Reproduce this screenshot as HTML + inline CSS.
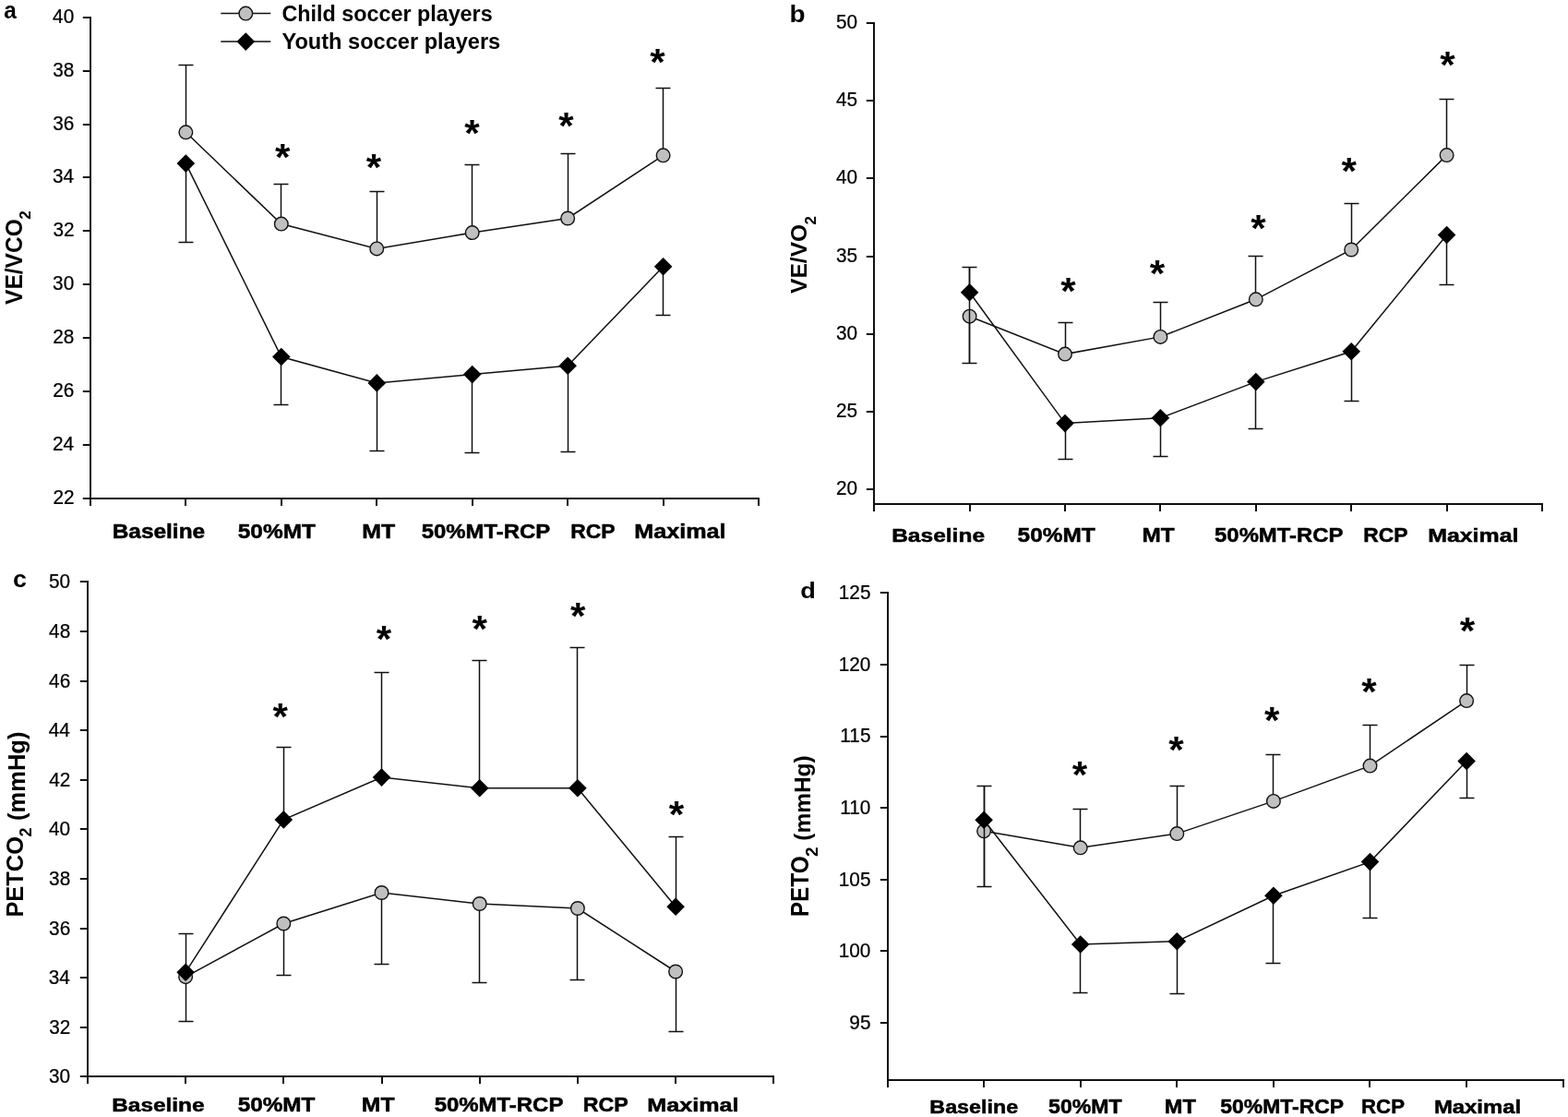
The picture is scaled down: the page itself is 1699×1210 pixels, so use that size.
<!DOCTYPE html>
<html><head><meta charset="utf-8"><title>Figure</title>
<style>html,body{margin:0;padding:0;background:#fff;}svg{display:block;}</style>
</head><body>
<svg width="1699" height="1210" viewBox="0 0 1699 1210" font-family="'Liberation Sans', Arial, Helvetica, sans-serif" fill="#000">
<rect width="1699" height="1210" fill="#fff"/>
<path d="M98 18 V548 M97 540 H822 V548 M201 540 V548 M305 540 V548 M408 540 V548 M512 540 V548 M615 540 V548 M719 540 V548 M89.8 540 H98 M89.8 482 H98 M89.8 424 H98 M89.8 366 H98 M89.8 308 H98 M89.8 250 H98 M89.8 192 H98 M89.8 135 H98 M89.8 77 H98 M89.8 19 H98" stroke="#111" stroke-width="2" fill="none" stroke-linecap="butt"/>
<text transform="translate(57.38,546.49) scale(0.98,1)" font-size="21.2" stroke="#000" stroke-width="0.25">22</text>
<text transform="translate(56.91,488.49) scale(0.98,1)" font-size="21.2" stroke="#000" stroke-width="0.25">24</text>
<text transform="translate(57.22,430.39) scale(0.98,1)" font-size="21.2" stroke="#000" stroke-width="0.25">26</text>
<text transform="translate(57.22,372.39) scale(0.98,1)" font-size="21.2" stroke="#000" stroke-width="0.25">28</text>
<text transform="translate(57.12,314.39) scale(0.98,1)" font-size="21.2" stroke="#000" stroke-width="0.25">30</text>
<text transform="translate(57.38,256.39) scale(0.98,1)" font-size="21.2" stroke="#000" stroke-width="0.25">32</text>
<text transform="translate(56.91,198.39) scale(0.98,1)" font-size="21.2" stroke="#000" stroke-width="0.25">34</text>
<text transform="translate(57.22,141.39) scale(0.98,1)" font-size="21.2" stroke="#000" stroke-width="0.25">36</text>
<text transform="translate(57.22,83.39) scale(0.98,1)" font-size="21.2" stroke="#000" stroke-width="0.25">38</text>
<text transform="translate(57.12,25.39) scale(0.98,1)" font-size="21.2" stroke="#000" stroke-width="0.25">40</text>
<polyline points="201.35,143.3 304.8,242.6 408.25,269.4 511.7,252.1 615.15,236.5 718.6,168.3" stroke="#111" stroke-width="1.5" fill="none"/>
<polyline points="201.35,177.1 304.8,386.5 408.25,414.9 511.7,405.6 615.15,396.3 718.6,288.8" stroke="#111" stroke-width="1.5" fill="none"/>
<path d="M201.5 143.3 V70.5 M193.5 70.5 H209.5 M304.5 242.6 V199.5 M296.5 199.5 H312.5 M408.5 269.4 V207.5 M400.5 207.5 H416.5 M511.5 252.1 V178.5 M503.5 178.5 H519.5 M615.5 236.5 V166.5 M607.5 166.5 H623.5 M718.5 168.3 V95.5 M710.5 95.5 H726.5 M201.5 177.1 V262.5 M193.5 262.5 H209.5 M304.5 386.5 V438.5 M296.5 438.5 H312.5 M408.5 414.9 V488.5 M400.5 488.5 H416.5 M511.5 405.6 V490.5 M503.5 490.5 H519.5 M615.5 396.3 V489.5 M607.5 489.5 H623.5 M718.5 288.8 V341.5 M710.5 341.5 H726.5" stroke="#111" stroke-width="1.5" fill="none"/>
<g fill="#c0c0c0" stroke="#111" stroke-width="1.4"><circle cx="201.35" cy="143.3" r="7.3"/><circle cx="304.8" cy="242.6" r="7.3"/><circle cx="408.25" cy="269.4" r="7.3"/><circle cx="511.7" cy="252.1" r="7.3"/><circle cx="615.15" cy="236.5" r="7.3"/><circle cx="718.6" cy="168.3" r="7.3"/></g>
<g fill="#000"><path d="M201.35 167.3 l9.8 9.8 l-9.8 9.8 l-9.8 -9.8 z"/><path d="M304.8 376.7 l9.8 9.8 l-9.8 9.8 l-9.8 -9.8 z"/><path d="M408.25 405.1 l9.8 9.8 l-9.8 9.8 l-9.8 -9.8 z"/><path d="M511.7 395.8 l9.8 9.8 l-9.8 9.8 l-9.8 -9.8 z"/><path d="M615.15 386.5 l9.8 9.8 l-9.8 9.8 l-9.8 -9.8 z"/><path d="M718.6 279 l9.8 9.8 l-9.8 9.8 l-9.8 -9.8 z"/></g>
<text transform="translate(298.12,183.95) scale(1.030,1)" font-size="41" font-weight="bold">*</text>
<text transform="translate(396.67,194.65) scale(1.030,1)" font-size="41" font-weight="bold">*</text>
<text transform="translate(503.27,158.35) scale(1.030,1)" font-size="41" font-weight="bold">*</text>
<text transform="translate(605.37,149.55) scale(1.030,1)" font-size="41" font-weight="bold">*</text>
<text transform="translate(704.27,81.15) scale(1.030,1)" font-size="41" font-weight="bold">*</text>
<text transform="translate(121.75,583) scale(1.1339,1)" font-size="21.52" font-weight="bold" stroke="#000" stroke-width="0.5">Baseline</text>
<text transform="translate(257.77,583) scale(1.0925,1)" font-size="22.37" font-weight="bold" stroke="#000" stroke-width="0.5">50%MT</text>
<text transform="translate(392.22,583) scale(1.0945,1)" font-size="22.69" font-weight="bold" stroke="#000" stroke-width="0.5">MT</text>
<text transform="translate(456.68,583) scale(1.0701,1)" font-size="22.37" font-weight="bold" stroke="#000" stroke-width="0.5">50%MT-RCP</text>
<text transform="translate(618.16,583) scale(1.0232,1)" font-size="22.37" font-weight="bold" stroke="#000" stroke-width="0.5">RCP</text>
<text transform="translate(687.3,583) scale(1.1693,1)" font-size="21.52" font-weight="bold" stroke="#000" stroke-width="0.5">Maximal</text>
<text transform="translate(4.37,19.8) scale(0.9509,1)" font-size="25.67" font-weight="bold">a</text>
<text transform="translate(23.8,329.98) rotate(-90) scale(0.9477,1)" font-size="25.93" font-weight="bold">VE/VCO</text>
<text transform="translate(33.4,237.8) rotate(-90) scale(1.0343,1)" font-size="16.63" font-weight="bold">2</text>
<path d="M947 24 V554 M946 546 H1671 V554 M1051 546 V554 M1154 546 V554 M1257 546 V554 M1361 546 V554 M1464 546 V554 M1568 546 V554 M938.8 530 H947 M938.8 446 H947 M938.8 362 H947 M938.8 278 H947 M938.8 193 H947 M938.8 109 H947 M938.8 25 H947" stroke="#111" stroke-width="2" fill="none" stroke-linecap="butt"/>
<text transform="translate(905.92,536.39) scale(0.98,1)" font-size="21.2" stroke="#000" stroke-width="0.25">20</text>
<text transform="translate(905.97,452.39) scale(0.98,1)" font-size="21.2" stroke="#000" stroke-width="0.25">25</text>
<text transform="translate(905.92,368.39) scale(0.98,1)" font-size="21.2" stroke="#000" stroke-width="0.25">30</text>
<text transform="translate(905.97,284.39) scale(0.98,1)" font-size="21.2" stroke="#000" stroke-width="0.25">35</text>
<text transform="translate(905.92,199.39) scale(0.98,1)" font-size="21.2" stroke="#000" stroke-width="0.25">40</text>
<text transform="translate(905.97,115.28) scale(0.98,1)" font-size="21.2" stroke="#000" stroke-width="0.25">45</text>
<text transform="translate(905.92,31.39) scale(0.98,1)" font-size="21.2" stroke="#000" stroke-width="0.25">50</text>
<polyline points="1050.6,342.7 1154,383.6 1257.4,364.9 1360.8,324.3 1464.2,270.5 1567.6,168.1" stroke="#111" stroke-width="1.5" fill="none"/>
<polyline points="1050.6,316.7 1154,458.6 1257.4,452.8 1360.8,413.6 1464.2,380.8 1567.6,254.5" stroke="#111" stroke-width="1.5" fill="none"/>
<path d="M1050.5 342.7 V393.5 M1042.5 393.5 H1058.5 M1154.5 383.6 V349.5 M1146.5 349.5 H1162.5 M1257.5 364.9 V327.5 M1249.5 327.5 H1265.5 M1360.5 324.3 V277.5 M1352.5 277.5 H1368.5 M1464.5 270.5 V220.5 M1456.5 220.5 H1472.5 M1567.5 168.1 V107.5 M1559.5 107.5 H1575.5 M1050.5 316.7 V289.5 M1042.5 289.5 H1058.5 M1154.5 458.6 V497.5 M1146.5 497.5 H1162.5 M1257.5 452.8 V494.5 M1249.5 494.5 H1265.5 M1360.5 413.6 V464.5 M1352.5 464.5 H1368.5 M1464.5 380.8 V434.5 M1456.5 434.5 H1472.5 M1567.5 254.5 V308.5 M1559.5 308.5 H1575.5" stroke="#111" stroke-width="1.5" fill="none"/>
<g fill="#c0c0c0" stroke="#111" stroke-width="1.4"><circle cx="1050.6" cy="342.7" r="7.3"/><circle cx="1154" cy="383.6" r="7.3"/><circle cx="1257.4" cy="364.9" r="7.3"/><circle cx="1360.8" cy="324.3" r="7.3"/><circle cx="1464.2" cy="270.5" r="7.3"/><circle cx="1567.6" cy="168.1" r="7.3"/></g>
<path d="M1050.5 289.2 V393.8" stroke="#111" stroke-width="1.5" fill="none"/>
<g fill="#000"><path d="M1050.6 306.9 l9.8 9.8 l-9.8 9.8 l-9.8 -9.8 z"/><path d="M1154 448.8 l9.8 9.8 l-9.8 9.8 l-9.8 -9.8 z"/><path d="M1257.4 443 l9.8 9.8 l-9.8 9.8 l-9.8 -9.8 z"/><path d="M1360.8 403.8 l9.8 9.8 l-9.8 9.8 l-9.8 -9.8 z"/><path d="M1464.2 371 l9.8 9.8 l-9.8 9.8 l-9.8 -9.8 z"/><path d="M1567.6 244.7 l9.8 9.8 l-9.8 9.8 l-9.8 -9.8 z"/></g>
<text transform="translate(1149.17,329.35) scale(1.030,1)" font-size="41" font-weight="bold">*</text>
<text transform="translate(1245.87,309.5) scale(1.030,1)" font-size="41" font-weight="bold">*</text>
<text transform="translate(1355.17,260.55) scale(1.030,1)" font-size="41" font-weight="bold">*</text>
<text transform="translate(1453.47,198.65) scale(1.030,1)" font-size="41" font-weight="bold">*</text>
<text transform="translate(1560.27,83.65) scale(1.030,1)" font-size="41" font-weight="bold">*</text>
<text transform="translate(966.14,586.6) scale(1.1632,1)" font-size="21.1" font-weight="bold" stroke="#000" stroke-width="0.5">Baseline</text>
<text transform="translate(1102.57,586.6) scale(1.1126,1)" font-size="21.94" font-weight="bold" stroke="#000" stroke-width="0.5">50%MT</text>
<text transform="translate(1237.55,586.6) scale(1.0962,1)" font-size="22.25" font-weight="bold" stroke="#000" stroke-width="0.5">MT</text>
<text transform="translate(1316.08,586.6) scale(1.0887,1)" font-size="21.94" font-weight="bold" stroke="#000" stroke-width="0.5">50%MT-RCP</text>
<text transform="translate(1477.36,586.6) scale(1.0410,1)" font-size="21.94" font-weight="bold" stroke="#000" stroke-width="0.5">RCP</text>
<text transform="translate(1547.22,586.6) scale(1.1798,1)" font-size="21.1" font-weight="bold" stroke="#000" stroke-width="0.5">Maximal</text>
<text transform="translate(855.49,24.3) scale(1.1122,1)" font-size="25.1" font-weight="bold">b</text>
<text transform="translate(874.1,317.88) rotate(-90) scale(1.0065,1)" font-size="24.41" font-weight="bold">VE/VO</text>
<text transform="translate(884.2,243.59) rotate(-90) scale(1.0455,1)" font-size="16.06" font-weight="bold">2</text>
<path d="M95 629 V1174 M94 1166 H838 V1174 M201 1166 V1174 M307 1166 V1174 M414 1166 V1174 M520 1166 V1174 M626 1166 V1174 M732 1166 V1174 M86.8 1166 H95 M86.8 1113 H95 M86.8 1059 H95 M86.8 1006 H95 M86.8 952 H95 M86.8 898 H95 M86.8 845 H95 M86.8 791 H95 M86.8 738 H95 M86.8 684 H95 M86.8 630 H95" stroke="#111" stroke-width="2" fill="none" stroke-linecap="butt"/>
<text transform="translate(53.02,1173.09) scale(0.98,1)" font-size="21.2" stroke="#000" stroke-width="0.25">30</text>
<text transform="translate(53.28,1120.09) scale(0.98,1)" font-size="21.2" stroke="#000" stroke-width="0.25">32</text>
<text transform="translate(52.81,1066.09) scale(0.98,1)" font-size="21.2" stroke="#000" stroke-width="0.25">34</text>
<text transform="translate(53.12,1013.09) scale(0.98,1)" font-size="21.2" stroke="#000" stroke-width="0.25">36</text>
<text transform="translate(53.12,959.09) scale(0.98,1)" font-size="21.2" stroke="#000" stroke-width="0.25">38</text>
<text transform="translate(53.02,905.09) scale(0.98,1)" font-size="21.2" stroke="#000" stroke-width="0.25">40</text>
<text transform="translate(53.28,852.19) scale(0.98,1)" font-size="21.2" stroke="#000" stroke-width="0.25">42</text>
<text transform="translate(52.81,798.09) scale(0.98,1)" font-size="21.2" stroke="#000" stroke-width="0.25">44</text>
<text transform="translate(53.12,745.09) scale(0.98,1)" font-size="21.2" stroke="#000" stroke-width="0.25">46</text>
<text transform="translate(53.12,691.09) scale(0.98,1)" font-size="21.2" stroke="#000" stroke-width="0.25">48</text>
<text transform="translate(53.02,637.09) scale(0.98,1)" font-size="21.2" stroke="#000" stroke-width="0.25">50</text>
<polyline points="201.1,1058.2 307.3,1000.5 413.5,967 519.7,979 625.9,984 732.1,1052.5" stroke="#111" stroke-width="1.5" fill="none"/>
<polyline points="201.1,1053.2 307.3,887.9 413.5,842.1 519.7,853.8 625.9,853.8 732.1,982.3" stroke="#111" stroke-width="1.5" fill="none"/>
<path d="M201.5 1058.2 V1106.5 M193.5 1106.5 H209.5 M307.5 1000.5 V1056.5 M299.5 1056.5 H315.5 M413.5 967 V1044.5 M405.5 1044.5 H421.5 M519.5 979 V1064.5 M511.5 1064.5 H527.5 M625.5 984 V1061.5 M617.5 1061.5 H633.5 M732.5 1052.5 V1117.5 M724.5 1117.5 H740.5 M201.5 1053.2 V1011.5 M193.5 1011.5 H209.5 M307.5 887.9 V809.5 M299.5 809.5 H315.5 M413.5 842.1 V728.5 M405.5 728.5 H421.5 M519.5 853.8 V715.5 M511.5 715.5 H527.5 M625.5 853.8 V701.5 M617.5 701.5 H633.5 M732.5 982.3 V906.5 M724.5 906.5 H740.5" stroke="#111" stroke-width="1.5" fill="none"/>
<g fill="#c0c0c0" stroke="#111" stroke-width="1.4"><circle cx="201.1" cy="1058.2" r="7.3"/><circle cx="307.3" cy="1000.5" r="7.3"/><circle cx="413.5" cy="967" r="7.3"/><circle cx="519.7" cy="979" r="7.3"/><circle cx="625.9" cy="984" r="7.3"/><circle cx="732.1" cy="1052.5" r="7.3"/></g>
<g fill="#000"><path d="M201.1 1043.4 l9.8 9.8 l-9.8 9.8 l-9.8 -9.8 z"/><path d="M307.3 878.1 l9.8 9.8 l-9.8 9.8 l-9.8 -9.8 z"/><path d="M413.5 832.3 l9.8 9.8 l-9.8 9.8 l-9.8 -9.8 z"/><path d="M519.7 844 l9.8 9.8 l-9.8 9.8 l-9.8 -9.8 z"/><path d="M625.9 844 l9.8 9.8 l-9.8 9.8 l-9.8 -9.8 z"/><path d="M732.1 972.5 l9.8 9.8 l-9.8 9.8 l-9.8 -9.8 z"/></g>
<text transform="translate(295.47,789.75) scale(1.030,1)" font-size="41" font-weight="bold">*</text>
<text transform="translate(407.87,706.05) scale(1.030,1)" font-size="41" font-weight="bold">*</text>
<text transform="translate(511.47,694.75) scale(1.030,1)" font-size="41" font-weight="bold">*</text>
<text transform="translate(618.07,680.55) scale(1.030,1)" font-size="41" font-weight="bold">*</text>
<text transform="translate(724.67,895.55) scale(1.030,1)" font-size="41" font-weight="bold">*</text>
<text transform="translate(121.25,1204) scale(1.1793,1)" font-size="20.69" font-weight="bold" stroke="#000" stroke-width="0.5">Baseline</text>
<text transform="translate(257.67,1204) scale(1.1307,1)" font-size="21.51" font-weight="bold" stroke="#000" stroke-width="0.5">50%MT</text>
<text transform="translate(391.83,1204) scale(1.1316,1)" font-size="21.82" font-weight="bold" stroke="#000" stroke-width="0.5">MT</text>
<text transform="translate(470.68,1204) scale(1.1137,1)" font-size="21.51" font-weight="bold" stroke="#000" stroke-width="0.5">50%MT-RCP</text>
<text transform="translate(631.73,1204) scale(1.0827,1)" font-size="21.51" font-weight="bold" stroke="#000" stroke-width="0.5">RCP</text>
<text transform="translate(701.3,1204) scale(1.2148,1)" font-size="20.69" font-weight="bold" stroke="#000" stroke-width="0.5">Maximal</text>
<text transform="translate(13.93,636) scale(1.0317,1)" font-size="26.05" font-weight="bold">c</text>
<text transform="translate(25,993.62) rotate(-90) scale(0.9745,1)" font-size="26.09" font-weight="bold">PETCO</text>
<text transform="translate(34.4,906.42) rotate(-90)" font-size="17.78" font-weight="bold">2</text>
<text transform="translate(27.1,888.98) rotate(-90)" font-size="25.52" font-weight="bold">(mmHg)</text>
<path d="M962 641 V1178 M961 1170 H1694 V1178 M1066 1170 V1178 M1171 1170 V1178 M1275 1170 V1178 M1380 1170 V1178 M1484 1170 V1178 M1589 1170 V1178 M953.8 1108 H962 M953.8 1030 H962 M953.8 953 H962 M953.8 875 H962 M953.8 798 H962 M953.8 720 H962 M953.8 642 H962" stroke="#111" stroke-width="2" fill="none" stroke-linecap="butt"/>
<text transform="translate(920.37,1114.59) scale(0.98,1)" font-size="21.2" stroke="#000" stroke-width="0.25">95</text>
<text transform="translate(908.74,1036.59) scale(0.98,1)" font-size="21.2" stroke="#000" stroke-width="0.25">100</text>
<text transform="translate(908.79,959.59) scale(0.98,1)" font-size="21.2" stroke="#000" stroke-width="0.25">105</text>
<text transform="translate(910.29,881.59) scale(0.98,1)" font-size="21.2" stroke="#000" stroke-width="0.25">110</text>
<text transform="translate(910.35,804.48) scale(0.98,1)" font-size="21.2" stroke="#000" stroke-width="0.25">115</text>
<text transform="translate(908.74,726.59) scale(0.98,1)" font-size="21.2" stroke="#000" stroke-width="0.25">120</text>
<text transform="translate(908.79,648.59) scale(0.98,1)" font-size="21.2" stroke="#000" stroke-width="0.25">125</text>
<polyline points="1066.1,900.3 1170.7,918.3 1275.3,903.1 1379.9,867.9 1484.5,829.6 1589.1,759.1" stroke="#111" stroke-width="1.5" fill="none"/>
<polyline points="1066.1,888.2 1170.7,1023 1275.3,1019.7 1379.9,970.2 1484.5,933.6 1589.1,824.5" stroke="#111" stroke-width="1.5" fill="none"/>
<path d="M1066.5 900.3 V960.5 M1058.5 960.5 H1074.5 M1170.5 918.3 V876.5 M1162.5 876.5 H1178.5 M1275.5 903.1 V851.5 M1267.5 851.5 H1283.5 M1379.5 867.9 V817.5 M1371.5 817.5 H1387.5 M1484.5 829.6 V785.5 M1476.5 785.5 H1492.5 M1589.5 759.1 V720.5 M1581.5 720.5 H1597.5 M1066.5 888.2 V851.5 M1058.5 851.5 H1074.5 M1170.5 1023 V1075.5 M1162.5 1075.5 H1178.5 M1275.5 1019.7 V1076.5 M1267.5 1076.5 H1283.5 M1379.5 970.2 V1043.5 M1371.5 1043.5 H1387.5 M1484.5 933.6 V994.5 M1476.5 994.5 H1492.5 M1589.5 824.5 V864.5 M1581.5 864.5 H1597.5" stroke="#111" stroke-width="1.5" fill="none"/>
<g fill="#c0c0c0" stroke="#111" stroke-width="1.4"><circle cx="1066.1" cy="900.3" r="7.3"/><circle cx="1170.7" cy="918.3" r="7.3"/><circle cx="1275.3" cy="903.1" r="7.3"/><circle cx="1379.9" cy="867.9" r="7.3"/><circle cx="1484.5" cy="829.6" r="7.3"/><circle cx="1589.1" cy="759.1" r="7.3"/></g>
<path d="M1066.5 851.9 V960.5" stroke="#111" stroke-width="1.5" fill="none"/>
<g fill="#000"><path d="M1066.1 878.4 l9.8 9.8 l-9.8 9.8 l-9.8 -9.8 z"/><path d="M1170.7 1013.2 l9.8 9.8 l-9.8 9.8 l-9.8 -9.8 z"/><path d="M1275.3 1009.9 l9.8 9.8 l-9.8 9.8 l-9.8 -9.8 z"/><path d="M1379.9 960.4 l9.8 9.8 l-9.8 9.8 l-9.8 -9.8 z"/><path d="M1484.5 923.8 l9.8 9.8 l-9.8 9.8 l-9.8 -9.8 z"/><path d="M1589.1 814.7 l9.8 9.8 l-9.8 9.8 l-9.8 -9.8 z"/></g>
<text transform="translate(1161.87,852.65) scale(1.030,1)" font-size="41" font-weight="bold">*</text>
<text transform="translate(1266.37,825.95) scale(1.030,1)" font-size="41" font-weight="bold">*</text>
<text transform="translate(1369.97,793.75) scale(1.030,1)" font-size="41" font-weight="bold">*</text>
<text transform="translate(1475.17,762.65) scale(1.030,1)" font-size="41" font-weight="bold">*</text>
<text transform="translate(1581.67,697.45) scale(1.030,1)" font-size="41" font-weight="bold">*</text>
<text transform="translate(1007.33,1206.4) scale(1.1263,1)" font-size="20.69" font-weight="bold" stroke="#000" stroke-width="0.5">Baseline</text>
<text transform="translate(1136.11,1206.4) scale(1.0734,1)" font-size="21.51" font-weight="bold" stroke="#000" stroke-width="0.5">50%MT</text>
<text transform="translate(1261.81,1206.4) scale(1.0812,1)" font-size="21.82" font-weight="bold" stroke="#000" stroke-width="0.5">MT</text>
<text transform="translate(1322.31,1206.4) scale(1.0662,1)" font-size="21.51" font-weight="bold" stroke="#000" stroke-width="0.5">50%MT-RCP</text>
<text transform="translate(1475.1,1206.4) scale(1.0318,1)" font-size="21.51" font-weight="bold" stroke="#000" stroke-width="0.5">RCP</text>
<text transform="translate(1553.89,1206.4) scale(1.1539,1)" font-size="20.69" font-weight="bold" stroke="#000" stroke-width="0.5">Maximal</text>
<text transform="translate(867.31,648.1) scale(1.1239,1)" font-size="24.14" font-weight="bold">d</text>
<text transform="translate(876.4,993.25) rotate(-90) scale(0.9113,1)" font-size="26.81" font-weight="bold">PETO</text>
<text transform="translate(885.5,927.96) rotate(-90) scale(1.0695,1)" font-size="17.63" font-weight="bold">2</text>
<text transform="translate(878.1,910.72) rotate(-90) scale(0.9857,1)" font-size="24.83" font-weight="bold">(mmHg)</text>
<path d="M239.3 14.6 H293.3 M239.3 45.1 H293.3" stroke="#111" stroke-width="1.5" fill="none"/>
<circle cx="266.3" cy="14.6" r="7.3" fill="#c0c0c0" stroke="#111" stroke-width="1.4"/>
<path d="M266.3 35.3 l9.8 9.8 l-9.8 9.8 l-9.8 -9.8 z" fill="#000"/>
<text transform="translate(305.47,23.1) scale(0.9840,1)" font-size="23.72" font-weight="bold">Child soccer players</text>
<text transform="translate(305.49,53.3)" font-size="23.59" font-weight="bold">Youth soccer players</text>
</svg>
</body></html>
